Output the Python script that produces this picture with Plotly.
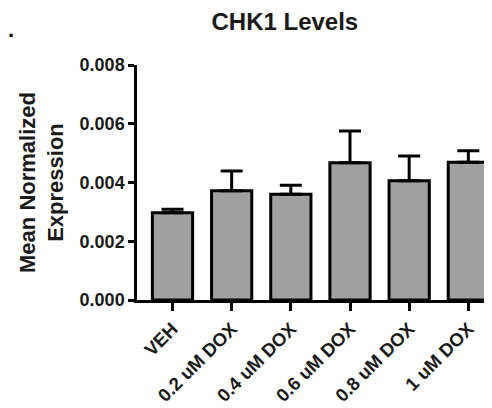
import plotly.graph_objects as go

categories = ["VEH", "0.2 uM DOX", "0.4 uM DOX", "0.6 uM DOX", "0.8 uM DOX", "1 uM DOX"]
means = [0.00297, 0.00372, 0.00360, 0.00467, 0.00406, 0.00469]
sem = [0.00012, 0.00067, 0.00031, 0.00108, 0.00084, 0.00039]
y_ticks = [0, 0.002, 0.004, 0.006, 0.008]
y_tick_labels = ["0.000", "0.002", "0.004", "0.006", "0.008"]

FONT = "Liberation Sans, Arial, sans-serif"

fig = go.Figure()
fig.add_trace(go.Bar(
    x=list(range(len(categories))),
    y=means,
    width=0.68,
    marker=dict(color="#a0a0a0", line=dict(color="black", width=3)),
    error_y=dict(type="data", symmetric=False, array=sem, arrayminus=[0] * len(sem),
                 color="black", thickness=3, width=11),
))

# page body has an 8px margin, so the figure is shifted/shrunk to compensate
fig.update_layout(
    width=484, height=400,
    margin=dict(l=129, r=0, t=57, b=108),
    paper_bgcolor="white", plot_bgcolor="white",
    showlegend=False,
    title=dict(text="CHK1 Levels", x=0.572, xanchor="center", y=0.967, yanchor="middle",
               font=dict(family=FONT, size=24, color="#1a1a1a", weight="bold")),
    xaxis=dict(
        range=[-0.6, 5.4], tickmode="array", tickvals=list(range(len(categories))),
        ticktext=categories, tickangle=-45, ticks="outside", ticklen=8, tickwidth=2.5,
        tickcolor="black", showline=True, linecolor="black", linewidth=2.5,
        showgrid=False, zeroline=False,
        tickfont=dict(family=FONT, size=18.5, color="#1a1a1a", weight="bold"),
    ),
    yaxis=dict(
        range=[0, 0.008], tickmode="array", tickvals=y_ticks, ticktext=y_tick_labels,
        ticks="outside", ticklen=6, tickwidth=2.5, tickcolor="black",
        showline=True, linecolor="black", linewidth=2.5, showgrid=False, zeroline=False,
        tickfont=dict(family=FONT, size=18, color="#1a1a1a", weight="bold"),
        title=dict(text="Mean Normalized<br>Expression", standoff=10,
                   font=dict(family=FONT, size=22, color="#1a1a1a", weight="bold")),
    ),
)
fig.add_annotation(text="<b>.</b>", x=0, y=1, xref="paper", yref="paper",
                   xanchor="left", yanchor="top", xshift=-131, yshift=50,
                   showarrow=False, font=dict(family=FONT, size=22, color="black"))

fig.write_html("out.html")
